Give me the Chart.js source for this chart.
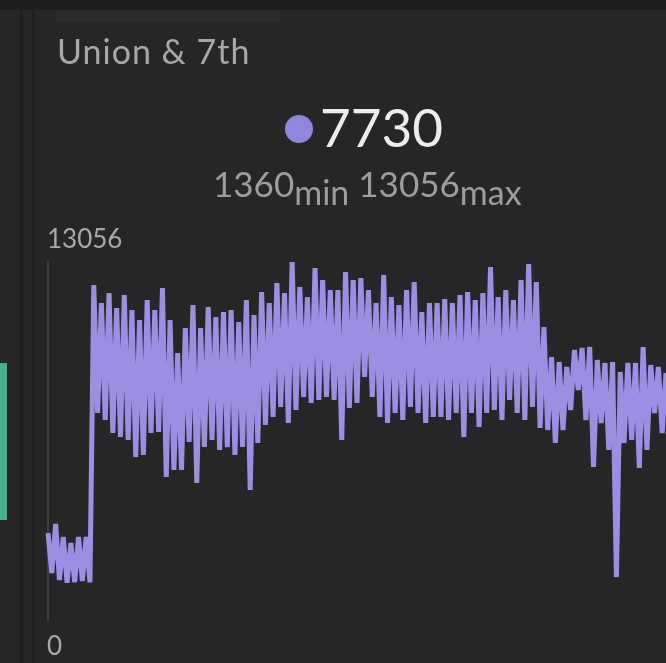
<!DOCTYPE html>
<html>
<head>
<meta charset="utf-8">
<script src="https://cdn.jsdelivr.net/npm/chart.js@4.4.1/dist/chart.umd.min.js"></script>
<style>
  html, body { margin: 0; padding: 0; }
  body {
    width: 666px; height: 663px; overflow: hidden; position: relative;
    background: #262626; font-family: Lato, "Noto Sans", sans-serif;
  }
  .topbar { position: absolute; left: 0; top: 0; width: 666px; height: 10px; background: #1d1d1d; }
  .tab { position: absolute; left: 57px; top: 10px; width: 222px; height: 12px; background: #2b2b2b; }
  .divider { position: absolute; top: 10px; bottom: 0; width: 3px; background: #1e1e1e; }
  .teal { position: absolute; left: 0; top: 363px; width: 7px; height: 157px; background: #4aae92; }
  #wrap { position: absolute; left: 0; top: 0; width: 666px; height: 663px; }
  .title { position: absolute; left: 57px; top: 34px; font-size: 34px; letter-spacing: 1px;
    line-height: 1; color: #a7a7a7; }
  .dot { position: absolute; left: 285px; top: 115px; width: 28px; height: 28px; border-radius: 50%;
    background: #8f86e0; }
  .current { position: absolute; left: 320px; top: 100px; font-size: 53px; line-height: 1; color: #ededed; }
  .range { position: absolute; left: 213px; top: 166px; font-size: 35px; line-height: 1;
    color: #9d9d9d; white-space: nowrap; }
  .range sub { font-size: 34px; vertical-align: -8px; line-height: 1; }
  .axis-label { position: absolute; left: 47px; font-size: 26px; line-height: 1; color: #a9a9a9; }
</style>
</head>
<body>
<div class="topbar"></div>
<div class="tab"></div>
<div class="divider" style="left:20px"></div>
<div class="divider" style="left:32px"></div>
<div class="teal"></div>
<div id="wrap"><canvas id="myChart"></canvas></div>
<div class="title" id="title"></div>
<div class="dot"></div>
<div class="current" id="current"></div>
<div class="range"><span id="minVal"></span><sub>min</sub> <span id="maxVal"></span><sub>max</sub></div>
<div class="axis-label" id="topTick" style="top:225px"></div>
<div class="axis-label" id="bottomTick" style="top:632px"></div>

<script>
let station = 'Union & 7th';
let current = 7730;
let minValue = 1360;
let maxValue = 13056;
let yTicks = [0, 13056];

// early low stretch
let earlyCounts = [3170, 1710, 3500, 1460, 3030, 1360, 2810, 1380, 3030, 1420, 3030, 1370];

// busy stretch
let dayCounts = [
  12217, 7549, 11561, 7294, 11926, 6820, 11379, 6674, 11853, 6565,
  11306, 5945, 10941, 6018, 11670, 6820, 11306, 6856, 12108, 5215,
  10941, 5471, 9737, 5471, 10649, 6492, 11488, 4996, 10649, 6309,
  11415, 6565, 11050, 6200, 11230, 6300, 11306, 6018, 10868, 6309,
  11670, 4741, 11123, 6455, 11962, 7112, 11561, 7403, 12290, 7768,
  11926, 7185, 13056, 7659, 12145, 8133, 11780, 7914, 12837, 8023,
  12400, 8133, 12035, 8023, 12035, 6565, 12692, 7731, 12400, 7914,
  12473, 8862, 12035, 8133, 11561, 7403, 12582, 7185, 11780, 7549,
  11488, 7294, 12035, 7768, 12327, 7549, 11233, 7185, 11561, 7403,
  11561, 7403, 11700, 7300, 11561, 7549, 11853, 6674, 11962, 7549,
  11670, 7039, 11926, 7549, 12874, 7659, 11780, 7294, 12035, 8023,
  11670, 7549, 12400, 7294, 12980, 7768, 12327, 7002, 10686
];

// evening stretch
let eveningCounts = [
  6929, 9591, 6455, 9409, 6929, 9227, 7659, 9847, 8388, 9920,
  7294, 9956, 5580, 9482, 7185, 9373, 6200, 9409, 1568, 9045,
  6455, 9373, 6565, 9373, 5543, 9956, 6200, 9300, 7549, 9227,
  6820, 9008
];

let counts = earlyCounts.concat(dayCounts, eveningCounts);
let labels = counts.map((_, i) => i);

document.getElementById('title').textContent = station;
document.getElementById('current').textContent = current;
document.getElementById('minVal').textContent = minValue;
document.getElementById('maxVal').textContent = maxValue;
document.getElementById('topTick').textContent = yTicks[1];
document.getElementById('bottomTick').textContent = yTicks[0];

let ctx = document.getElementById('myChart').getContext('2d');

let myChart = new Chart(ctx, {
    type: 'line',
    data: {
        labels: labels,
        datasets: [{
            data: counts,
            borderColor: '#9a8fe2',
            borderWidth: 5,
            borderJoinStyle: 'bevel',
            pointRadius: 0,
            tension: 0,
            fill: false
        }]
    },
    options: {
        responsive: true,
        maintainAspectRatio: false,
        animation: false,
        layout: {
            padding: { left: 48, top: 262, right: 0, bottom: 43 }
        },
        plugins: {
            legend: { display: false },
            tooltip: { enabled: false }
        },
        scales: {
            x: { display: false, offset: false },
            y: {
                min: yTicks[0],
                max: yTicks[1],
                ticks: { display: false },
                grid: { display: false, drawTicks: false },
                border: { display: true, color: '#3d3d3d', width: 2 }
            }
        }
    }
})
</script>
</body>
</html>
